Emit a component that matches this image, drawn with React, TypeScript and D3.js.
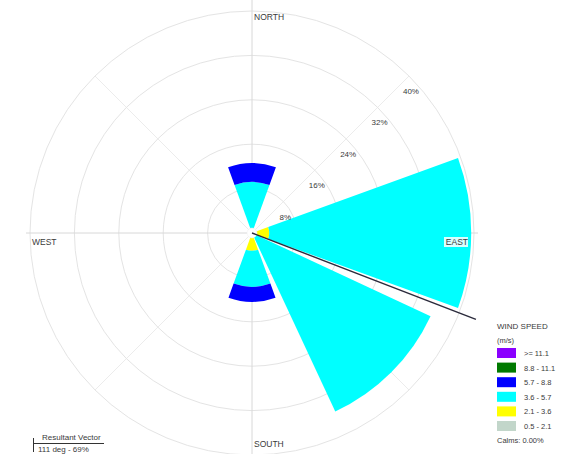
import React from "react";
import * as d3 from "d3";

const directions = ["N", "NE", "E", "SE", "S", "SW", "W", "NW"];
const directionAngles = [0, 45, 90, 135, 180, 225, 270, 315];

const speedClasses = ["0.5 - 2.1", "2.1 - 3.6", "3.6 - 5.7", "5.7 - 8.8", "8.8 - 11.1", ">= 11.1"];
const speedColors = ["#C2D6CA", "#FFFF00", "#00FFFF", "#0000FF", "#007A00", "#8A00FF"];

// percent frequency per direction for each speed class
const freq05to21 = [0, 0, 0, 0, 0, 0, 0, 0];
const freq21to36 = [0, 0, 3.1, 0, 3.2, 0, 0, 0];
const freq36to57 = [9.2, 0, 36.4, 35.5, 6.5, 0, 0, 0];
const freq57to88 = [3.4, 0, 0, 0, 2.7, 0, 0, 0];
const freq88to111 = [0, 0, 0, 0, 0, 0, 0, 0];
const freqGe111 = [0, 0, 0, 0, 0, 0, 0, 0];

const ringValues = [8, 16, 24, 32, 40];
const ringLabels = ["8%", "16%", "24%", "32%", "40%"];
const compassLabels = ["NORTH", "EAST", "SOUTH", "WEST"];
const calmsText = "Calms: 0.00%";
const resultantLabel = "111 deg - 69%";

export default function App() {
  const W = 568, H = 454;
  const cx = 252, cy = 233;
  const R = 222;
  const r = d3.scaleLinear().domain([0, 40]).range([0, R]);
  const deg = Math.PI / 180;
  const halfWidth = 20 * deg;
  const font = "'Liberation Sans', Arial, sans-serif";
  const textColor = "#3a3a3a";

  const series = [freq05to21, freq21to36, freq36to57, freq57to88, freq88to111, freqGe111];
  const arc = d3.arc<any>();

  const wedges: { d: string; color: string }[] = [];
  directions.forEach((_, i) => {
    let cum = 0;
    series.forEach((s, k) => {
      const v = s[i];
      if (v > 0) {
        const a = directionAngles[i] * deg;
        const d = arc({
          innerRadius: r(cum),
          outerRadius: r(cum + v),
          startAngle: a - halfWidth,
          endAngle: a + halfWidth,
        }) as string;
        wedges.push({ d, color: speedColors[k] });
      }
      cum += v;
    });
  });

  // resultant vector computed from the data
  let vx = 0, vy = 0;
  directions.forEach((_, i) => {
    const tot = series.reduce((acc, s) => acc + s[i], 0);
    vx += tot * Math.sin(directionAngles[i] * deg);
    vy += tot * Math.cos(directionAngles[i] * deg);
  });
  const vAngle = Math.atan2(vx, vy);
  const vLen = R + 18;

  const legendX = 497;
  const legendTop = 348;
  const legendStep = 14.6;
  const legendOrder = [5, 4, 3, 2, 1, 0];

  return (
    <svg width={W} height={H} style={{ position: "absolute", left: 0, top: 0, background: "#fff" }}>
      <rect x={0} y={0} width={W} height={H} fill="#fff" />
      <g transform={`translate(${cx},${cy})`}>
        {/* diagonal grid lines */}
        {[45, 135, 225, 315].map((a) => (
          <line key={a} x1={0} y1={0} x2={R * Math.sin(a * deg)} y2={-R * Math.cos(a * deg)} stroke="#ececec" strokeWidth={1} />
        ))}
        {ringValues.map((v) => (
          <circle key={v} r={r(v)} fill="none" stroke="#e4e4e4" strokeWidth={1} />
        ))}
        <line x1={0} y1={-R - 12} x2={0} y2={R + 12} stroke="#d8d8d8" strokeWidth={1} />
        <line x1={-R - 4} y1={0} x2={R + 4} y2={0} stroke="#d8d8d8" strokeWidth={1} />

        {wedges.map((w, i) => (
          <path key={i} d={w.d} fill={w.color} />
        ))}
        <circle r={5} fill="#fff" stroke="#eeeeee" strokeWidth={0.5} />

        {ringValues.map((v, i) => (
          <text key={v} x={r(v) * Math.cos(45 * deg) + 2} y={-r(v) * Math.sin(45 * deg) + 18} fontSize={8} fontFamily={font} fill={textColor} textAnchor="middle">
            {ringLabels[i]}
          </text>
        ))}

        {/* compass labels */}
        <text x={2} y={-R + 9} fontSize={8.5} fontFamily={font} fill={textColor}>{compassLabels[0]}</text>
        <rect x={R - 30} y={4} width={24} height={10} fill="#fff" opacity={0.85} />
        <text x={R - 6} y={11.5} fontSize={8.5} fontFamily={font} fill={textColor} textAnchor="end">{compassLabels[1]}</text>
        <text x={2} y={R - 8} fontSize={8.5} fontFamily={font} fill={textColor}>{compassLabels[2]}</text>
        <text x={-R + 2} y={11.5} fontSize={8.5} fontFamily={font} fill={textColor}>{compassLabels[3]}</text>

        {/* resultant vector */}
        <line x1={0} y1={0} x2={vLen * Math.sin(vAngle)} y2={-vLen * Math.cos(vAngle)} stroke="#2b2b3c" strokeWidth={1.4} />
      </g>

      {/* speed legend */}
      <text x={legendX} y={329} fontSize={8} fontFamily={font} fill={textColor}>WIND SPEED</text>
      <text x={legendX} y={343} fontSize={7.5} fontFamily={font} fill={textColor}>(m/s)</text>
      {legendOrder.map((k, j) => (
        <g key={k} transform={`translate(${legendX},${legendTop + j * legendStep})`}>
          <rect x={0} y={0} width={19} height={10} fill={speedColors[k]} />
          <text x={27} y={8} fontSize={7.5} fontFamily={font} fill={textColor}>{speedClasses[k]}</text>
        </g>
      ))}
      <text x={legendX} y={443} fontSize={7.5} fontFamily={font} fill={textColor}>{calmsText}</text>

      {/* resultant legend */}
      <text x={42} y={440} fontSize={8} fontFamily={font} fill={textColor}>Resultant Vector</text>
      <line x1={33} y1={443.5} x2={104} y2={443.5} stroke="#333" strokeWidth={1} />
      <line x1={33.5} y1={438} x2={33.5} y2={452} stroke="#333" strokeWidth={1} />
      <text x={38} y={452} fontSize={8} fontFamily={font} fill={textColor}>{resultantLabel}</text>
    </svg>
  );
}
